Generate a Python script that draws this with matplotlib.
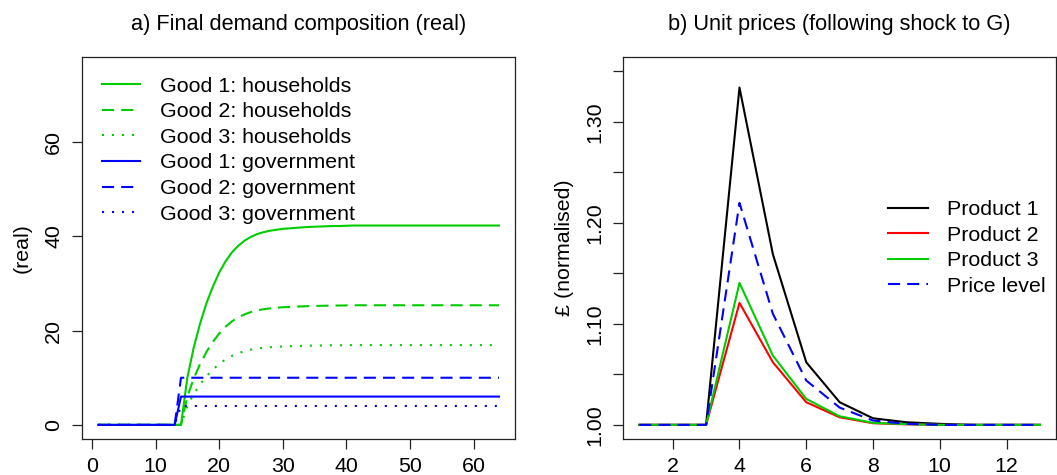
import matplotlib
matplotlib.use("Agg")
import matplotlib.pyplot as plt
from matplotlib.ticker import FixedLocator, FixedFormatter

plt.rcParams['font.family'] = ['Liberation Sans', 'DejaVu Sans']

# ---------------- data: panel a ----------------
periods_a = list(range(1, 65))
hh_good1 = [0]*14 + [10.0, 16.4, 21.5, 25.8, 29.3, 32.3, 34.7, 36.6, 38.0, 39.1,
                     39.9, 40.5, 40.9, 41.2, 41.4, 41.6, 41.7, 41.8, 41.9, 42.0,
                     42.05, 42.1, 42.15, 42.2, 42.2, 42.25] + [42.3]*24
hh_good2 = [0]*14 + [6.0, 9.84, 12.9, 15.48, 17.58, 19.38, 20.82, 21.96, 22.8, 23.46,
                     23.94, 24.3, 24.54, 24.72, 24.84, 24.96, 25.02, 25.08, 25.14, 25.2,
                     25.23, 25.26, 25.29, 25.32, 25.32, 25.35] + [25.38]*24
hh_good3 = [0]*14 + [4.0, 6.56, 8.6, 10.32, 11.72, 12.92, 13.88, 14.64, 15.2, 15.64,
                     15.96, 16.2, 16.36, 16.48, 16.56, 16.64, 16.68, 16.72, 16.76, 16.8,
                     16.82, 16.84, 16.86, 16.88, 16.88, 16.9] + [16.92]*24
gov_good1 = [0]*13 + [6.0]*51
gov_good2 = [0]*13 + [10.0]*51
gov_good3 = [0]*13 + [4.0]*51
labels_a = ["Good 1: households", "Good 2: households", "Good 3: households",
            "Good 1: government", "Good 2: government", "Good 3: government"]
xticks_a = [0, 10, 20, 30, 40, 50, 60]
yticks_a = [0, 20, 40, 60]

# ---------------- data: panel b ----------------
periods_b = list(range(1, 14))
product1 = [1.0, 1.0, 1.0, 1.334, 1.169, 1.062, 1.0224, 1.0065, 1.0026, 1.001, 1.0, 1.0, 1.0]
product2 = [1.0, 1.0, 1.0, 1.1208, 1.062, 1.0224, 1.0075, 1.0016, 1.0005, 1.0, 1.0, 1.0, 1.0]
product3 = [1.0, 1.0, 1.0, 1.1406, 1.0686, 1.0257, 1.0085, 1.002, 1.0007, 1.0, 1.0, 1.0, 1.0]
price_level = [1.0, 1.0, 1.0, 1.2198, 1.110, 1.0439, 1.0171, 1.0043, 1.001, 1.0, 1.0, 1.0, 1.0]
labels_b = ["Product 1", "Product 2", "Product 3", "Price level"]
xticks_b = [2, 4, 6, 8, 10, 12]
yticks_b = [1.00, 1.05, 1.10, 1.15, 1.20, 1.25, 1.30, 1.35]
yticklabels_b = ["1.00", "", "1.10", "", "1.20", "", "1.30", ""]

# ---------------- figure ----------------
W, H = 1057, 475
FS = 15.4
fig = plt.figure(figsize=(W/100, H/100), dpi=100)

def px_axes(x0, x1, y0, y1):
    return fig.add_axes([x0/W, 1 - y1/H, (x1-x0)/W, (y1-y0)/H])

ax1 = px_axes(82.3, 515.0, 57.3, 439.0)
ax2 = px_axes(623.3, 1056.0, 57.3, 439.0)

GREEN = '#00CD00'
BLUE = '#0000FF'
LW = 1.5
dash = (5.8, 3.4)
dot = (1.0, 3.8)

def style_line(line, kind):
    if kind == 'dash':
        line.set_dashes(dash)
    elif kind == 'dot':
        line.set_dashes(dot)

series_a = [(hh_good1, GREEN, 'solid'), (hh_good2, GREEN, 'dash'), (hh_good3, GREEN, 'dot'),
            (gov_good1, BLUE, 'solid'), (gov_good2, BLUE, 'dash'), (gov_good3, BLUE, 'dot')]
handles_a = []
for (vals, col, kind), lab in zip(series_a, labels_a):
    ln, = ax1.plot(periods_a, vals, color=col, lw=LW, label=lab)
    style_line(ln, kind)
    handles_a.append(ln)

r = 64 - 1
ax1.set_xlim(1 - 0.04*r, 64 + 0.04*r)
ax1.set_ylim(0 - 0.04*75, 75 + 0.04*75)
ax1.set_xticks(xticks_a)
ax1.set_yticks(yticks_a)

series_b = [(product1, 'black', 'solid'), (product2, 'red', 'solid'),
            (product3, GREEN, 'solid'), (price_level, BLUE, 'dash')]
handles_b = []
for (vals, col, kind), lab in zip(series_b, labels_b):
    ln, = ax2.plot(periods_b, vals, color=col, lw=LW, label=lab)
    style_line(ln, kind)
    handles_b.append(ln)

r = 13 - 1
ax2.set_xlim(1 - 0.04*r, 13 + 0.04*r)
ax2.set_ylim(1.0 - 0.04*0.35, 1.35 + 0.04*0.35)
ax2.set_xticks(xticks_b)
ax2.yaxis.set_major_locator(FixedLocator(yticks_b))
ax2.yaxis.set_major_formatter(FixedFormatter(yticklabels_b))

for ax in (ax1, ax2):
    for s in ax.spines.values():
        s.set_linewidth(0.9)
        s.set_color('#222222')
    ax.tick_params(axis='both', direction='out', length=7.2, width=0.9,
                   labelsize=FS, colors='#222222', labelcolor='black')
    ax.tick_params(axis='x', pad=5.5)
    ax.tick_params(axis='y', pad=6.5, labelrotation=90)
    for t in ax.get_yticklabels():
        t.set_va('center')

# titles
fig.text((82.3+515.0)/2/W, 1 - 30/H, "a) Final demand composition (real)",
         ha='center', va='baseline', fontsize=FS + 0.3)
fig.text((623.3+1056.0)/2/W, 1 - 30/H, "b) Unit prices (following shock to G)",
         ha='center', va='baseline', fontsize=FS + 0.3)
# y labels
fig.text(22/W, 1 - 248/H, "(real)", rotation=90, ha='center', va='center', fontsize=FS)
fig.text(565/W, 1 - 248/H, "£ (normalised)", rotation=90, ha='center', va='center', fontsize=FS)

# legends
ax1.legend(handles=handles_a, loc='upper left', bbox_to_anchor=(101.7/W, 1 - 76.5/H),
           bbox_transform=fig.transFigure, frameon=False, fontsize=FS,
           handlelength=1.79, handletextpad=0.93, labelspacing=0.31,
           borderpad=0, borderaxespad=0)
ax2.legend(handles=handles_b, loc='upper left', bbox_to_anchor=(888.3/W, 1 - 200.0/H),
           bbox_transform=fig.transFigure, frameon=False, fontsize=FS,
           handlelength=1.87, handletextpad=0.86, labelspacing=0.31,
           borderpad=0, borderaxespad=0)

fig.savefig("out.png", dpi=100)
